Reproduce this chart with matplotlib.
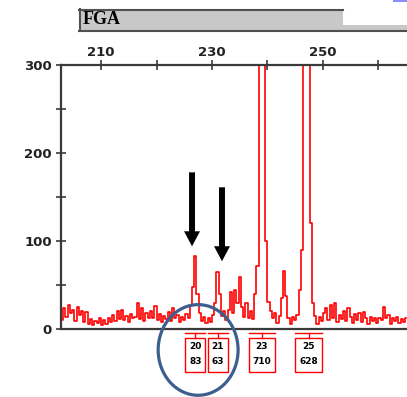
import numpy as np
import matplotlib.pyplot as plt
from matplotlib.patches import Rectangle, Ellipse
from matplotlib.transforms import Affine2D

# Electropherogram trace, FGA locus (RFU read every 0.4 bp from 203.0 bp)
size_start = 203.0
size_step = 0.4
rfu = [10, 24, 14, 27, 18, 22, 9, 25, 16, 20, 8, 19,
       6, 11, 4, 9, 7, 12, 5, 10, 6,
       13, 8, 16, 9, 20, 11, 22, 10, 15, 8,
       17, 12, 14, 30, 11, 24, 9, 18, 13, 20,
       12, 26, 10, 17, 8, 15, 11, 19, 9, 24,
       13, 16, 8, 14, 10, 17, 12, 26,
       48, 83, 40, 18,
       9, 14, 7, 12, 8, 16, 30,
       65, 40, 15, 20, 10, 22, 42, 18, 44, 30, 59, 25, 14, 29, 12, 20, 11, 40, 72,
       400, 400, 400,
       100, 31, 21, 12, 18, 7, 15, 35, 66, 37, 12, 6, 14, 10, 16, 44, 90,
       400, 400, 400,
       120, 30,
       15, 6, 14, 9, 18, 24, 10, 27, 12, 29, 8, 16, 11, 21, 9, 24, 14, 7, 17, 10,
       18, 8, 19, 12, 6, 14, 9, 13, 7, 12, 10, 25, 13, 16, 6, 12, 9, 14, 7, 11,
       8, 13]
sizes = size_start + size_step * np.arange(len(rfu))

# allele calls shown under the axis
allele_sizes = [227.0, 231.0, 239.0, 247.4]
allele_names = ['20', '21', '23', '25']
allele_heights = ['83', '63', '710', '628']

# arrows pointing at the two small peaks
arrow_x = [226.4, 231.8]
arrow_tip = [94, 77]

fig = plt.figure(figsize=(4.07, 3.97), dpi=100)
pix = Affine2D().scale(1 / 407, -1 / 397).translate(0, 1) + fig.transFigure

# locus title bar
fig.add_artist(Rectangle((79, 9), 328, 22, transform=pix, fc='#c8c8c8', ec='none'))
fig.add_artist(Rectangle((343, 9), 64, 16, transform=pix, fc='white', ec='none'))
fig.add_artist(plt.Line2D([79, 343], [10, 10], transform=pix, color='#505050', lw=1.5))
fig.add_artist(plt.Line2D([80, 80], [9, 31], transform=pix, color='#505050', lw=1.5))
fig.add_artist(plt.Line2D([79, 407], [30.5, 30.5], transform=pix, color='#505050', lw=1.5))
fig.add_artist(Rectangle((393, 0), 14, 2, transform=pix, fc='#8c8cff', ec='none'))
fig.text(83, 20, 'FGA', transform=pix, va='center', ha='left',
         fontfamily='Liberation Serif', fontweight='bold', fontsize=13)

ax = fig.add_axes([61 / 407, 1 - 329 / 397, 1 - 61 / 407, (329 - 65) / 397])
ax.plot(sizes, rfu, color='red', lw=1.2, drawstyle='steps-mid')
ax.set_xlim(202.79, 265.14)
ax.set_ylim(0, 300)

ax.spines['right'].set_visible(False)
for s in ['top', 'left', 'bottom']:
    ax.spines[s].set_color('#3a3a3a')
    ax.spines[s].set_linewidth(1.6)

ax.xaxis.tick_top()
ax.set_xticks(range(210, 261, 10))
ax.set_xticklabels(['210', '', '230', '', '250', ''])
ax.tick_params(axis='x', direction='inout', length=7, width=1.2, pad=1,
               labelsize=9.5, color='#3a3a3a', labelcolor='#222222')
ax.set_yticks([0, 100, 200, 300])
ax.set_yticks([50, 150, 250], minor=True)
ax.tick_params(axis='y', which='both', direction='inout', length=7, width=1.2,
               pad=3, labelsize=9.5, color='#3a3a3a', labelcolor='#222222')
for lbl in ax.get_xticklabels() + ax.get_yticklabels():
    lbl.set_fontweight('bold')

# allele label boxes
for x, name, h in zip(allele_sizes, allele_names, allele_heights):
    w = (7 + 6.5 * max(len(name), len(h))) / 5.55
    ax.plot([x - w / 2, x + w / 2], [-4, -4], color='red', lw=1, clip_on=False)
    ax.plot([x, x], [-4, -10.2], color='red', lw=1, clip_on=False)
    ax.add_patch(Rectangle((x - w / 2, -48.8), w, 38.6, fc='white', ec='red',
                           lw=1, clip_on=False))
    ax.text(x, -20, name, ha='center', va='center', fontsize=6.5,
            fontweight='bold', clip_on=False)
    ax.text(x, -37.5, h, ha='center', va='center', fontsize=6.5,
            fontweight='bold', clip_on=False)

for x, tip in zip(arrow_x, arrow_tip):
    ax.annotate('', xy=(x, tip), xytext=(x, tip + 84), annotation_clip=False,
                arrowprops=dict(facecolor='black', edgecolor='none', width=4.3,
                                headwidth=11.5, headlength=10.8, shrink=0))

ax.add_patch(Ellipse((227.5, -23.8), 14.4, 103, fill=False, ec='#3c5f8e',
                     lw=2.3, clip_on=False, zorder=5))

fig.savefig('out.png', dpi=100)
